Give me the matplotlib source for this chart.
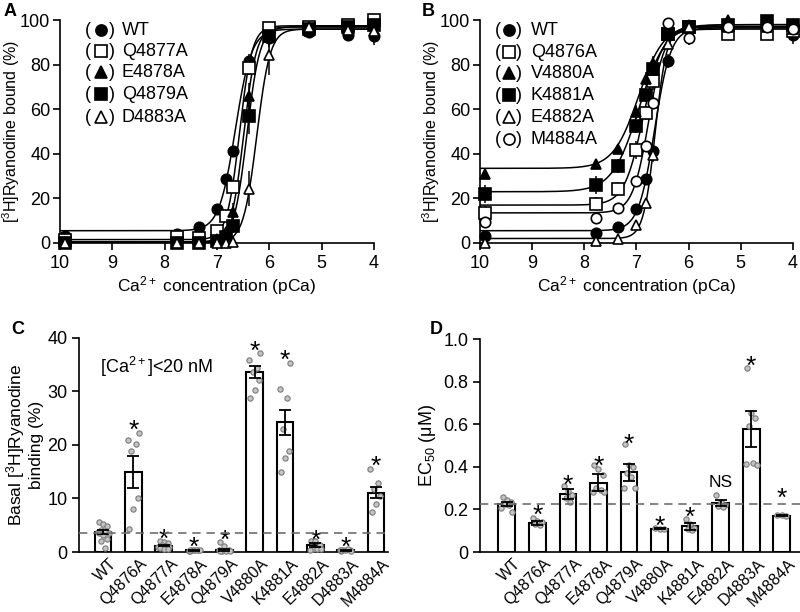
import numpy as np
import matplotlib
matplotlib.use('Agg')
import matplotlib.pyplot as plt

plt.rcParams['font.family'] = ['Liberation Sans', 'DejaVu Sans']
plt.rcParams['mathtext.fontset'] = 'custom'
plt.rcParams['mathtext.rm'] = 'Liberation Sans'
plt.rcParams['mathtext.it'] = 'Liberation Sans:italic'
plt.rcParams['font.size'] = 12

# Concentracoes de Ca (pCa)
pca = [9.9, 7.77, 7.35, 7.0, 6.82, 6.69, 6.39, 6.0, 5.24, 4.49, 4.0]

# Painel A: ligacao de [3H]rianodina (%)
a_nomes = ['WT', 'Q4877A', 'E4878A', 'Q4879A', 'D4883A']
a_wt = [3.2, 4.2, 7.2, 15.4, 28.6, 41.3, 81.7, 91.8, 94.5, 93.3, 92.8]
a_q4877 = [1.5, 2.7, 2.4, 5.2, 12.0, 25.0, 78.6, 96.7, 97.0, 98.0, 100.0]
a_e4878 = [0.5, 0.3, 0.5, 2.0, 5.0, 14.0, 66.0, 92.5, 95.0, 97.0, 98.5]
a_q4879 = [0.0, 0.0, 0.0, 1.0, 2.7, 7.5, 57.0, 93.0, 96.0, 97.0, 98.0]
a_d4883 = [0.0, 0.0, 0.0, 0.0, 0.0, 0.5, 24.4, 84.3, 97.0, 95.5, 95.0]
a_err_wt = [1, 0.5, 1, 1.5, 2, 2, 3, 4, 2, 2, 4]
a_err_q4877 = [0.5, 0.5, 0.5, 1, 2, 2, 3, 2, 1, 1, 1]
a_err_e4878 = [0.5, 0.5, 0.5, 1, 2, 4, 6, 3, 2, 1, 1]
a_err_q4879 = [0.5, 0.5, 0.5, 1, 1, 3, 8, 4, 2, 1, 1]
a_err_d4883 = [0.3, 0.3, 0.3, 0.3, 0.5, 1, 8, 9, 2, 2, 2]
# ajuste de Hill: base, topo, pCa50, n
a_fit = [(5.5, 96.0, 6.65, 2.8), (1.5, 97.5, 6.57, 3.6), (0.5, 97.0, 6.49, 3.6),
         (0.3, 97.0, 6.43, 3.5), (0.2, 96.0, 6.24, 3.4)]

# Painel B
b_nomes = ['WT', 'Q4876A', 'V4880A', 'K4881A', 'E4882A', 'M4884A']
b_wt = [3.1, 4.5, 7.2, 15.4, 28.6, 41.3, 81.7, 96.5, 97.0, 97.0, 93.5]
b_q4876 = [13.5, 17.7, 24.4, 41.6, 58.4, 72.8, 94.0, 97.0, 94.0, 94.0, 95.0]
b_v4880 = [31.0, 35.6, 42.4, 58.8, 73.8, 81.0, 95.5, 97.7, 100.0, 98.5, 98.5]
b_k4881 = [22.0, 26.0, 34.6, 52.4, 66.3, 78.0, 94.0, 97.0, 97.7, 99.7, 97.8]
b_e4882 = [0.0, 1.0, 2.0, 8.0, 18.0, 39.4, 89.5, 97.0, 97.0, 97.0, 96.0]
b_m4884 = [9.4, 11.4, 15.9, 28.0, 43.6, 63.0, 98.8, 91.8, 97.0, 97.0, 96.0]
b_err_wt = [1, 0.5, 1, 1.5, 2, 2, 3, 2, 2, 2, 4]
b_err_q4876 = [3, 3, 3, 4, 3, 4, 2, 2, 2, 2, 2]
b_err_v4880 = [2, 2, 2, 3, 3, 3, 2, 2, 2, 2, 2]
b_err_k4881 = [4, 4, 3, 3, 3, 3, 2, 2, 2, 2, 2]
b_err_e4882 = [0.5, 0.5, 0.5, 1, 2, 3, 3, 2, 1, 1, 1]
b_err_m4884 = [2, 2, 2, 2, 2, 3, 2, 3, 1, 1, 1]
b_fit = [(5.5, 96.5, 6.65, 2.8), (17.0, 96.0, 6.87, 2.4), (33.5, 98.0, 6.96, 1.8),
         (23.0, 98.0, 6.95, 1.7), (2.0, 97.0, 6.64, 3.9), (13.5, 97.0, 6.76, 2.8)]

# Paineis C e D
mutantes = ['WT', 'Q4876A', 'Q4877A', 'E4878A', 'Q4879A',
            'V4880A', 'K4881A', 'E4882A', 'D4883A', 'M4884A']
c_media = [3.7, 15.0, 1.2, 0.3, 0.4, 33.6, 24.2, 1.3, 0.3, 11.1]
c_sem = [0.4, 3.0, 0.15, 0.05, 0.2, 1.1, 2.4, 0.3, 0.05, 1.1]
c_pontos = [[5.7, 5.2, 4.8, 4.2, 4.0, 3.8, 3.6, 3.5, 3.2, 2.5, 2.0, 0.8],
            [4.3, 8.0, 10.0, 18.8, 20.1, 21.0, 22.2],
            [2.0, 1.8, 1.6, 1.4, 1.2, 1.0, 0.9, 0.8, 0.6, 0.5],
            [0.2, 0.3, 0.3, 0.4, 0.3, 0.2, 0.4, 0.3],
            [1.8, 1.2, 0.3, 0.2, 0.2, 0.3, 0.2, 0.2],
            [28.7, 30.3, 32.2, 33.6, 34.3, 35.8, 37.2],
            [14.9, 17.5, 18.8, 22.9, 28.8, 30.5, 35.3],
            [2.0, 2.0, 1.3, 0.6, 0.5, 0.4, 0.5],
            [0.2, 0.3, 0.4, 0.3, 0.5, 0.3, 0.2, 0.4],
            [7.4, 9.0, 10.4, 11.8, 12.9, 15.5]]
c_sig = ['', '*', '*', '*', '*', '*', '*', '*', '*', '*']
c_sig_y = [0, 24.1, 3.9, 2.4, 3.6, 39.0, 37.2, 3.6, 2.3, 17.4]
c_ref = 3.55

d_media = [0.225, 0.137, 0.273, 0.325, 0.375, 0.11, 0.12, 0.23, 0.578, 0.171]
d_sem = [0.008, 0.01, 0.022, 0.04, 0.04, 0.003, 0.018, 0.016, 0.085, 0.003]
d_pontos = [[0.26, 0.245, 0.235, 0.225, 0.22, 0.205, 0.19],
            [0.16, 0.145, 0.14, 0.13, 0.125],
            [0.31, 0.285, 0.27, 0.255, 0.235],
            [0.41, 0.39, 0.36, 0.3, 0.29, 0.28, 0.28],
            [0.505, 0.41, 0.40, 0.37, 0.35, 0.30, 0.30],
            [0.115, 0.11, 0.108],
            [0.155, 0.13, 0.115, 0.11, 0.105],
            [0.27, 0.235, 0.22, 0.215, 0.21],
            [0.865, 0.655, 0.63, 0.59, 0.42, 0.415, 0.41],
            [0.175, 0.172, 0.168]]
d_sig = ['', '*', '*', '*', '*', '*', '*', 'NS', '*', '*']
d_sig_y = [0, 0.21, 0.35, 0.44, 0.54, 0.155, 0.2, 0.325, 0.91, 0.29]
d_ref = 0.225

# estilos dos marcadores: (marcador, cheio?)
a_estilo = [('o', True), ('s', False), ('^', True), ('s', True), ('^', False)]
b_estilo = [('o', True), ('s', False), ('^', True), ('s', True), ('^', False), ('o', False)]

fig = plt.figure(figsize=(8, 6.12), dpi=100)
axA = fig.add_axes([0.075, 0.603, 0.3925, 0.364])
axB = fig.add_axes([0.600, 0.603, 0.391, 0.364])
axC = fig.add_axes([0.099, 0.098, 0.386, 0.350])
axD = fig.add_axes([0.600, 0.098, 0.400, 0.348])


def hill(x, base, topo, p50, n):
    return base + (topo - base) / (1 + 10 ** (n * (x - p50)))


def curvas(ax, nomes, series, erros, ajustes, estilos, leg_x, leg_y):
    xs = np.linspace(10, 4, 400)
    for par in ajustes:
        ax.plot(xs, hill(xs, *par), color='black', lw=1.1, zorder=2)
    for y, e, (m, cheio) in zip(series, erros, estilos):
        ax.errorbar(pca, y, yerr=e, fmt=m, ms=8 if m == 's' else 7.5,
                    mfc='black' if cheio else 'white', mec='black', mew=1.2,
                    ecolor='black', elinewidth=1.1, capsize=0, clip_on=False, zorder=3)
    for i, (nome, (m, cheio)) in enumerate(zip(nomes, estilos)):
        yy = leg_y[i]
        ax.text(leg_x[0], yy, '(', transform=ax.transAxes, ha='center', va='center', fontsize=13)
        ax.plot([leg_x[1]], [yy], marker=m, ms=8, mfc='black' if cheio else 'white',
                mec='black', mew=1.2, transform=ax.transAxes, clip_on=False)
        ax.text(leg_x[2], yy, ')', transform=ax.transAxes, ha='center', va='center', fontsize=13)
        ax.text(leg_x[3], yy, nome, transform=ax.transAxes, ha='left', va='center', fontsize=13)
    ax.set_xlim(10, 4)
    ax.set_ylim(0, 100)
    ax.set_xticks([10, 9, 8, 7, 6, 5, 4])
    ax.set_yticks([0, 20, 40, 60, 80, 100])
    ax.set_xlabel('Ca$^{2+}$ concentration (pCa)', fontsize=12.5, labelpad=2)
    ax.set_ylabel('[$^3$H]Ryanodine bound (%)', fontsize=11.5)
    ax.yaxis.set_label_coords(-0.122, 0.5)


def barras(ax, media, sem, pontos, sig, sig_y, ref):
    x = np.arange(len(mutantes))
    ax.bar(x, media, width=0.55, color='white', edgecolor='black', lw=1.5, zorder=2)
    ax.errorbar(x, media, yerr=sem, fmt='none', ecolor='black', elinewidth=1.3,
                capsize=4, capthick=1.3, zorder=4)
    desloc = [-0.14, 0.0, 0.14, -0.07, 0.07, -0.18, 0.18]
    for i, pts in enumerate(pontos):
        dx = [desloc[k % len(desloc)] for k in range(len(pts))]
        ax.plot(x[i] + np.array(dx), pts, 'o', ms=3.8, mfc='#c4c4c4', mec='#7a7a7a',
                mew=0.8, zorder=3, clip_on=False)
    ax.axhline(ref, color='#6e6e6e', lw=1.2, dashes=(5, 3.5), zorder=5)
    for i, s in enumerate(sig):
        if s == '*':
            ax.annotate(s, (x[i], sig_y[i]), xytext=(0, -6), textcoords='offset points',
                        ha='center', va='center', fontsize=19)
        elif s:
            ax.text(x[i], sig_y[i], s, ha='center', va='center', fontsize=12.5)
    ax.set_xticks(x + 0.2)
    ax.set_xticklabels(mutantes, rotation=45, ha='right', rotation_mode='anchor')


curvas(axA, a_nomes, [a_wt, a_q4877, a_e4878, a_q4879, a_d4883],
       [a_err_wt, a_err_q4877, a_err_e4878, a_err_q4879, a_err_d4883],
       a_fit, a_estilo, (0.09, 0.131, 0.165, 0.197), [0.955, 0.861, 0.767, 0.668, 0.565])
curvas(axB, b_nomes, [b_wt, b_q4876, b_v4880, b_k4881, b_e4882, b_m4884],
       [b_err_wt, b_err_q4876, b_err_v4880, b_err_k4881, b_err_e4882, b_err_m4884],
       b_fit, b_estilo, (0.058, 0.092, 0.125, 0.163),
       [0.955, 0.857, 0.762, 0.664, 0.565, 0.466])

barras(axC, c_media, c_sem, c_pontos, c_sig, c_sig_y, c_ref)
axC.set_xlim(-0.79, 9.4)
axC.set_ylim(0, 40)
axC.set_yticks([0, 10, 20, 30, 40])
axC.set_ylabel('Basal [$^3$H]Ryanodine\nbinding (%)', fontsize=12.5, labelpad=2)
axC.text(1.77, 34.5, '[Ca$^{2+}$]<20 nM', ha='center', va='center', fontsize=13)

barras(axD, d_media, d_sem, d_pontos, d_sig, d_sig_y, d_ref)
axD.set_xlim(-0.88, 9.6)
axD.set_ylim(0, 1.0)
axD.set_yticks([0, 0.2, 0.4, 0.6, 0.8, 1.0])
axD.set_yticklabels(['0', '0.2', '0.4', '0.6', '0.8', '1.0'])
axD.set_ylabel('EC$_{50}$ (\u03bcM)', fontsize=13, labelpad=4)

for ax in (axA, axB, axC, axD):
    ax.spines['top'].set_visible(False)
    ax.spines['right'].set_visible(False)
    for s in ('left', 'bottom'):
        ax.spines[s].set_linewidth(1.2)
    ax.tick_params(direction='out', length=5, width=1.2, labelsize=13)
for ax in (axA, axB):
    ax.tick_params(axis='y', pad=2)
for ax in (axC, axD):
    ax.tick_params(axis='x', length=0, pad=3, labelsize=11.5)

fig.text(0.004, 0.995, 'A', fontsize=13, fontweight='bold', va='top')
fig.text(0.527, 0.995, 'B', fontsize=13, fontweight='bold', va='top')
fig.text(0.014, 0.475, 'C', fontsize=13, fontweight='bold', va='top')
fig.text(0.537, 0.475, 'D', fontsize=13, fontweight='bold', va='top')

fig.savefig('out.png', dpi=100)
